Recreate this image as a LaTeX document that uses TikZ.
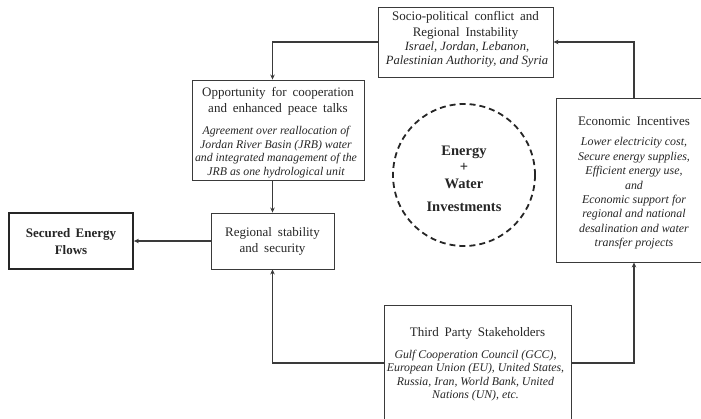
\documentclass[tikz,border=0pt]{standalone}
\usepackage{fontspec}
\setmainfont{Liberation Serif}
\usetikzlibrary{arrows.meta}
\definecolor{ink}{HTML}{262626}
\definecolor{linec}{HTML}{3A3A3A}
\newcommand\myttlfont{\fontsize{13}{16}\selectfont\spaceskip 0.45em\relax}
\newcommand\myitlfont{\fontsize{11.8}{13.6}\selectfont\itshape}
\newcommand\mysocfont{\fontsize{12.6}{14}\selectfont\itshape}
\newcommand\myecofont{\fontsize{11.9}{14.4}\selectfont\itshape}
\newcommand\mybldfont{\fontsize{13}{17}\selectfont\bfseries\spaceskip 0.4em\relax}
\newcommand\mycircfont{\fontsize{14.5}{16.5}\selectfont\bfseries}
\tikzset{
  box/.style={draw=linec, line width=0.9pt, rectangle, inner sep=0pt, fill=white},
  boldbox/.style={box, line width=1.8pt, draw=ink},
  ttl/.style={text=ink, align=center, inner sep=0pt, font=\myttlfont},
  itl/.style={text=ink, align=center, inner sep=0pt, font=\myitlfont},
  bld/.style={text=ink, align=center, inner sep=0pt, font=\mybldfont},
  arr/.style={draw=linec, line width=1.3pt, -{Stealth[length=5pt,width=4.5pt]}},
}
\begin{document}
\begin{tikzpicture}[x=1pt,y=-1pt]
\useasboundingbox (0,0) rectangle (701,418);
\clip (0,0) rectangle (701,418);
% boxes
\node[box, minimum width=175pt, minimum height=70pt] (socio) at (465.5,42) {};
\node[box, minimum width=172pt, minimum height=100pt] (opp) at (278,130) {};
\node[box, minimum width=123pt, minimum height=56pt] (reg) at (272.5,241) {};
\node[boldbox, minimum width=124pt, minimum height=56pt] (sec) at (71,241) {};
\node[box, minimum width=156pt, minimum height=164pt] (econ) at (634,180) {};
\node[box, minimum width=187pt, minimum height=116pt] (tp) at (477.5,363) {};
\node[draw=ink, circle, dashed, line width=1.8pt, dash pattern=on 6pt off 4pt, minimum size=142pt, inner sep=0pt] (inv) at (464,175) {};
% texts
\node[ttl] (socioT) at (465.5,25) {Socio-political conflict and\\Regional Instability};
\node[itl, font=\mysocfont] (socioI) at (467,54.5) {Israel, Jordan, Lebanon,\\Palestinian Authority, and Syria};
\node[ttl] (oppT) at (278,101) {Opportunity for cooperation\\and enhanced peace talks};
\node[itl] (oppI) at (276,152) {Agreement over reallocation of\\Jordan River Basin (JRB) water\\and integrated management of the\\JRB as one hydrological unit};
\node[ttl] (regT) at (272.5,241.5) {Regional stability\\and security};
\node[bld] (secT) at (71,241.5) {Secured Energy\\Flows};
\node[ttl] (econT) at (634,121) {Economic Incentives};
\node[itl, font=\myecofont] (econI) at (634,193.5) {Lower electricity cost,\\Secure energy supplies,\\Efficient energy use,\\and\\Economic support for\\regional and national\\desalination and water\\transfer projects};
\node[ttl] (tpT) at (477.5,333) {Third Party Stakeholders};
\node[itl] (tpI) at (475.5,375.5) {Gulf Cooperation Council (GCC),\\European Union (EU), United States,\\Russia, Iran, World Bank, United\\Nations (UN), etc.};
\node[bld, font=\mycircfont] (invT) at (464,179) {Energy\\[-0.5pt]+\\Water\\[7pt]Investments};
% connectors
\draw[arr] (econ.north) |- (socio.east);
\draw[arr] (socio.west) -| (reg.north |- opp.north);
\draw[arr] (reg.north |- opp.south) -- (reg.north);
\draw[arr] (reg.west) -- (sec.east);
\draw[arr] (tp.west) -| (reg.south);
\draw[arr] (tp.east) -| (econ.south);
\end{tikzpicture}
\end{document}
